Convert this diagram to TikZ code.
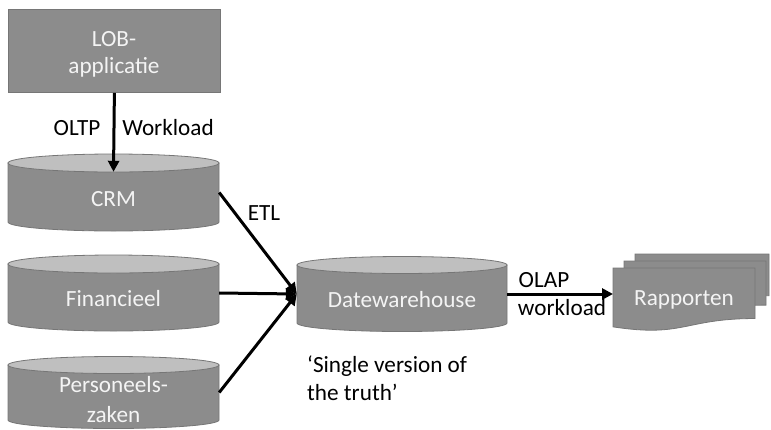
\documentclass[tikz,border=0pt]{standalone}
\usepackage{fontspec}
\setmainfont{Carlito}
\usetikzlibrary{arrows.meta,calc}

\definecolor{bodygray}{HTML}{8C8C8C}
\definecolor{topgray}{HTML}{BFBFBF}
\definecolor{edgegray}{HTML}{767676}
\definecolor{lbltext}{HTML}{F4F4F4}

\tikzset{
  shapefill/.style={fill=bodygray, draw=edgegray, line width=0.8pt},
  capfill/.style={fill=topgray, draw=edgegray, line width=0.8pt},
  intext/.style={text=lbltext, font=\fontsize{23.2}{27}\selectfont, align=center, inner sep=0pt},
  outtext/.style={text=black, font=\fontsize{23.2}{28}\selectfont, inner sep=0pt},
  flow/.style={line width=3pt, -{Triangle[length=11pt,width=11pt]}},
}

% database cylinder: #1 name, #2 centre x, #3 x radius, #4 top ellipse y, #5 bottom ellipse y, #6 y radius
\newcommand\dbcylinder[6]{%
  \path[shapefill] ({#2-#3},#4) -- ({#2-#3},#5)
    arc[start angle=180, end angle=360, x radius=#3pt, y radius=#6pt]
    -- ({#2+#3},#4) -- cycle;
  \path[capfill] (#2,#4) ellipse[x radius=#3pt, y radius=#6pt];
  \node[inner sep=0pt, minimum width={2*#3pt}, minimum height={(#5-#4)*1pt}]
    (#1) at (#2,{(#4+#5)/2}) {};
}

% report sheet with wavy lower edge: #1 left x, #2 top y, #3 width, #4 height
\newcommand\reportsheet[4]{%
  \path[shapefill] (#1,#2) -- ({#1+#3},#2) -- ({#1+#3},{#2+0.802*#4})
    .. controls ({#1+0.5*#3},{#2+0.802*#4}) and ({#1+0.5*#3},{#2+1.1075*#4})
    .. (#1,{#2+0.934*#4}) -- cycle;
}

\begin{document}
\begin{tikzpicture}[x=1pt,y=-1pt]
\useasboundingbox (0,0) rectangle (771,429);

% line-of-business application
\node[shapefill, minimum width=212pt, minimum height=83pt,
      anchor=north west] (lob) at (8,9) {};
\node[intext, anchor=base] at (114,73) {LOB-\\applicatie};

% source databases
\dbcylinder{crm}{113.5}{105.5}{163}{222}{9}
\node[intext, anchor=base] at ([yshift=-14pt]crm.center) {CRM};

\dbcylinder{fin}{113.5}{105.5}{264}{322}{9}
\node[intext, anchor=base] at ([yshift=-13pt]fin.center) {Financieel};

\dbcylinder{pers}{113.5}{105.5}{365}{420}{8.5}
\node[intext, anchor=base, font=\fontsize{23.2}{30}\selectfont]
  at ([yshift=-29.5pt]pers.center) {Personeels-\\zaken};

% data warehouse
\dbcylinder{dwh}{402}{105}{265}{323}{8.5}
\node[intext, anchor=base] at ([yshift=-13pt]dwh.center) {Datewarehouse};

% stacked reports
\reportsheet{635}{254}{134}{52}
\reportsheet{624}{261}{142}{55}
\reportsheet{613}{268}{142}{63}
\node[inner sep=0pt, minimum width=142pt, minimum height=50pt, anchor=north west]
  (rep) at (613,268) {};
\node[intext, anchor=base] at (684,305) {Rapporten};

% connectors
\draw[flow] (lob.south) -- ([yshift=-9pt]crm.north);
\draw[flow] (crm.east) -- (dwh.west);
\draw[flow] (fin.east) -- (dwh.west);
\draw[flow] (pers.east) -- (dwh.west);
\draw[flow] (dwh.east) -- (dwh.east -| rep.west);

% connector labels
\node[outtext, anchor=base] (oltp) at (77,135) {OLTP};
\node[outtext, anchor=base] (wl) at (168,135) {Workload};
\node[outtext, anchor=base] (etl) at (264,220) {ETL};
\node[outtext, anchor=base] (olap) at (544,287) {OLAP};
\node[outtext, anchor=base] (wl2) at (562,315) {workload};

% caption under the warehouse
\node[outtext, anchor=base west, align=left] (truth) at (307,400)
  {‘Single version of\\the truth’};
\end{tikzpicture}
\end{document}
